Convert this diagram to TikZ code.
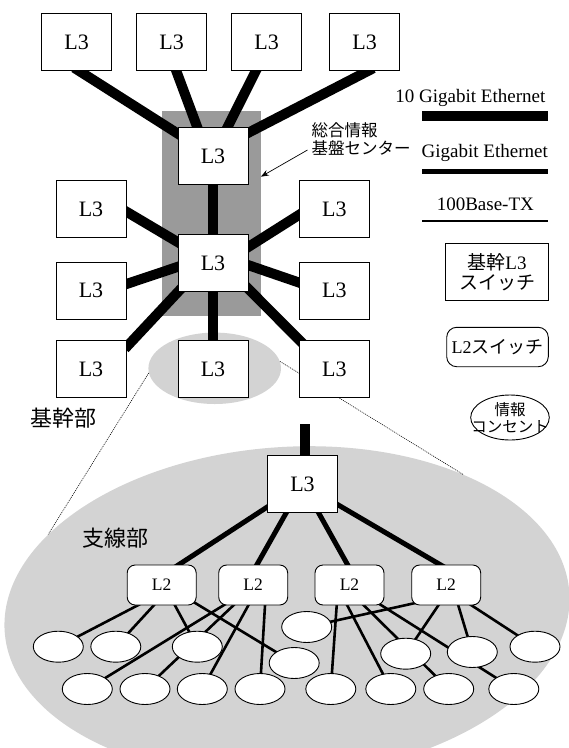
\documentclass[tikz,border=0pt]{standalone}
\usepackage{fontspec}
\setmainfont{Liberation Serif}
\newfontfamily\jp{Noto Sans CJK JP}
\usetikzlibrary{calc,shapes.geometric,arrows.meta}
\pgfdeclarelayer{bg}
\pgfdeclarelayer{ln}
\pgfsetlayers{bg,ln,main}
\definecolor{dgray}{HTML}{9A9A9A}
\definecolor{lgray}{HTML}{D3D3D3}
\begin{document}
\begin{tikzpicture}[x=1pt,y=-1pt,
  l3/.style={draw,fill=white,line width=0.9pt,minimum width=70pt,minimum height=57pt,inner sep=0pt,font=\fontsize{22}{24}\selectfont},
  l2/.style={draw,fill=white,rounded corners=8pt,line width=0.9pt,minimum width=69pt,minimum height=40pt,inner sep=0pt,font=\fontsize{17.5}{20}\selectfont},
  outlet/.style={draw,fill=white,ellipse,line width=0.9pt,minimum width=50pt,minimum height=31pt,inner sep=0pt},
  tenG/.style={line width=10pt},
  oneG/.style={line width=5pt},
  fast/.style={line width=2.6pt},
  ext/.style={shorten <=-6pt, shorten >=-6pt},
  exts/.style={shorten <=-6pt},
  exte/.style={shorten >=-6pt},
  guide/.style={line width=0.6pt, dash pattern=on 1pt off 1pt},
  jlabel/.style={inner sep=0pt,font={\jp\fontsize{22}{24}\selectfont}},
  legtext/.style={inner sep=0pt,font=\fontsize{19}{21}\selectfont},
]
\useasboundingbox (0,0) rectangle (569,748);

% backbone L3 switches
\node[l3] (T1) at (76.7,42) {L3};
\node[l3] (T2) at (171.7,42) {L3};
\node[l3] (T3) at (266.7,42) {L3};
\node[l3] (T4) at (364.7,42) {L3};
\node[l3] (C1) at (213,156) {L3};
\node[l3] (C2) at (213,263) {L3};
\node[l3] (Lf1) at (91,209) {L3};
\node[l3] (Lf2) at (91,290.8) {L3};
\node[l3] (Lf3) at (91,369) {L3};
\node[l3] (Rt1) at (334.3,209) {L3};
\node[l3] (Rt2) at (334.3,290.8) {L3};
\node[l3] (Rt3) at (334.3,369) {L3};
\node[l3] (Bc) at (213,369) {L3};

% branch
\node[l3] (Br) at (302.5,484) {L3};
\coordinate (stub) at (304.7,424);
\node[l2] (L2a) at (161.7,585) {L2};
\node[l2] (L2b) at (253.2,585) {L2};
\node[l2] (L2c) at (349.5,585) {L2};
\node[l2] (L2d) at (446.2,585) {L2};

\node[outlet] (E1) at (58.3,646.7) {};
\node[outlet] (E2) at (115.8,646.7) {};
\node[outlet] (E3) at (197.3,646.7) {};
\node[outlet] (E4) at (294.2,663) {};
\node[outlet] (U)  at (306.7,627) {};
\node[outlet] (M1) at (405.7,653.7) {};
\node[outlet] (M2) at (472.3,652) {};
\node[outlet] (M3) at (535,646.7) {};
\node[outlet] (B1) at (87.3,689) {};
\node[outlet] (B2) at (145,689) {};
\node[outlet] (B3) at (202.3,689) {};
\node[outlet] (B4) at (260,689) {};
\node[outlet] (B5) at (330.8,689) {};
\node[outlet] (B6) at (390.8,689) {};
\node[outlet] (B7) at (448.7,689) {};
\node[outlet] (B8) at (513.8,689) {};

% labels
\node[jlabel] (kanbu) at (63.3,418) {基幹部};
\node[jlabel] (shibu) at (115.8,538.3) {支線部};
\node[anchor=west, align=left, inner sep=0pt, font={\jp\fontsize{16.5}{18.5}\selectfont}] (ctrlbl) at (311.5,139) {総合情報\\基盤センター};

% legend
\node[legtext, anchor=base east] (lg1) at (545.5,102.5) {10 Gigabit Ethernet};
\coordinate (lg1a) at (422,115.7);
\coordinate (lg1b) at (548,115.7);
\node[legtext, anchor=base east] (lg2) at (548,157.3) {Gigabit Ethernet};
\coordinate (lg2a) at (422,171);
\coordinate (lg2b) at (548,171);
\node[legtext, anchor=base] (lg3) at (485.3,210) {100Base-TX};
\coordinate (lg3a) at (422,221);
\coordinate (lg3b) at (548,221);
\draw[tenG] (lg1a) -- (lg1b);
\draw[oneG] (lg2a) -- (lg2b);
\draw[fast] (lg3a) -- (lg3b);
\node[draw, fill=white, line width=0.9pt, minimum width=102.6pt, minimum height=57.4pt, inner sep=0pt, align=center, font=\fontsize{19}{20}\selectfont] (lgl3) at (497,272) {{\jp 基幹}L3\\{\jp スイッチ}};
\node[l2, minimum width=101.6pt, minimum height=39.4pt, rounded corners=10pt, font=\fontsize{18}{20}\selectfont] (lgl2) at (497.5,347) {L2{\jp スイッチ}};
\node[draw, ellipse, minimum width=78.6pt, minimum height=45pt, inner sep=0pt, line width=0.9pt] (lgout) at (510,417.5) {};
\node[align=center, inner sep=0pt, font={\jp\fontsize{15.5}{16.6}\selectfont}] (lgoutt) at (lgout.center) {情報\\コンセント};

% background areas
\begin{pgfonlayer}{bg}
\node[fill=dgray, minimum width=98.4pt, minimum height=205pt, inner sep=0pt] (ctr) at (211.5,213.2) {};
\node[ellipse, fill=lgray, minimum width=132.6pt, minimum height=71.4pt, inner sep=0pt] (kikan) at (214.7,368.3) {};
\node[ellipse, fill=lgray, rotate=4, minimum width=566pt, minimum height=330pt, inner sep=0pt] (shisen) at (287,612) {};
\end{pgfonlayer}

% connectors
\begin{pgfonlayer}{ln}
\draw[guide] (kikan.184) -- (shisen.158.5);
\draw[guide] (kikan.6) -- (shisen.34.6);
\draw[-{Stealth[length=8pt,width=6pt]}, line width=0.7pt] ($(ctrlbl.west)+(-4,11)$) -- ($(ctr.east)+(0,-36.5)$);

\draw[tenG, exts] ($(T1.south)+(2.5,0)$) -- (C1.center);
\draw[tenG, ext] ($(T2.south)+(4.6,0)$) -- ($(C1.north)+(-15.8,0)$);
\draw[tenG, exts] ($(T3.south)+(-10.9,0)$) -- (C1.center);
\draw[tenG, exts] ($(T4.south)+(3.3,0)$) -- ($(C1.center)+(0,-5)$);
\draw[tenG] (C1.center) -- (C2.center);
\draw[tenG] (C2.center) -- (Bc.center);
\draw[tenG, exts] ($(Lf1.east)+(0,2.7)$) -- (C2.center);
\draw[tenG, ext] ($(Lf2.east)+(0,-6.8)$) -- ($(C2.west)+(0,3.9)$);
\draw[tenG, ext] ($(Lf3.north east)+(2.5,4.3)$) -- ($(C2.south west)+(3.6,-3.4)$);
\draw[tenG, ext] ($(Rt1.west)+(0,6)$) -- ($(C2.east)+(0,-16.1)$);
\draw[tenG, ext] ($(Rt2.west)+(0,-8.3)$) -- ($(C2.east)+(0,2.2)$);
\draw[tenG, ext] ($(Rt3.north west)+(2.2,1.8)$) -- ($(C2.south east)+(-1.7,-4.7)$);

\draw[tenG] (stub) -- (stub |- Br.center);
\draw[oneG, exte] (Br.center) -- ($(L2a.north)+(17.3,0)$);
\draw[oneG, exte] (Br.center) -- ($(L2b.north)+(3.8,0)$);
\draw[oneG, exte] (Br.center) -- ($(L2c.north)+(-2,0)$);
\draw[oneG, exte] (Br.center) -- ($(L2d.north)+(-6.2,0)$);

\draw[fast, exts] ($(L2a.south)+(-24.2,0)$) -- (E1.center);
\draw[fast, exts] ($(L2a.south)+(-8,0)$) -- (E2.center);
\draw[fast, exts] ($(L2a.south)+(13.3,0)$) -- (E3.center);
\draw[fast, exts] ($(L2a.center)+(31,16.5)$) -- (E4.center);
\draw[fast, exts] ($(L2b.south)+(-29.9,0)$) -- (B1.center);
\draw[fast, exts] ($(L2b.south)+(-19.9,0)$) -- (B2.center);
\draw[fast, exts] ($(L2b.south)+(-4.9,0)$) -- (B3.center);
\draw[fast, exts] ($(L2b.south)+(11.8,0)$) -- (B4.center);
\draw[fast, exts] ($(L2c.south)+(-12.8,0)$) -- (B5.center);
\draw[fast, exts] ($(L2c.south)+(-2.2,0)$) -- (B6.center);
\draw[fast, exts] ($(L2c.south)+(14.5,0)$) -- (B7.center);
\draw[fast, exts] ($(L2c.center)+(28.8,18.3)$) -- (B8.center);
\draw[fast, exts] ($(L2d.center)+(-29.5,17.7)$) -- (U.center);
\draw[fast, exts] ($(L2d.south)+(-7.9,0)$) -- (M1.center);
\draw[fast, exts] ($(L2d.south)+(12.1,0)$) -- (M2.center);
\draw[fast, exts] ($(L2d.south)+(25.5,0)$) -- (M3.center);
\end{pgfonlayer}
\end{tikzpicture}
\end{document}
